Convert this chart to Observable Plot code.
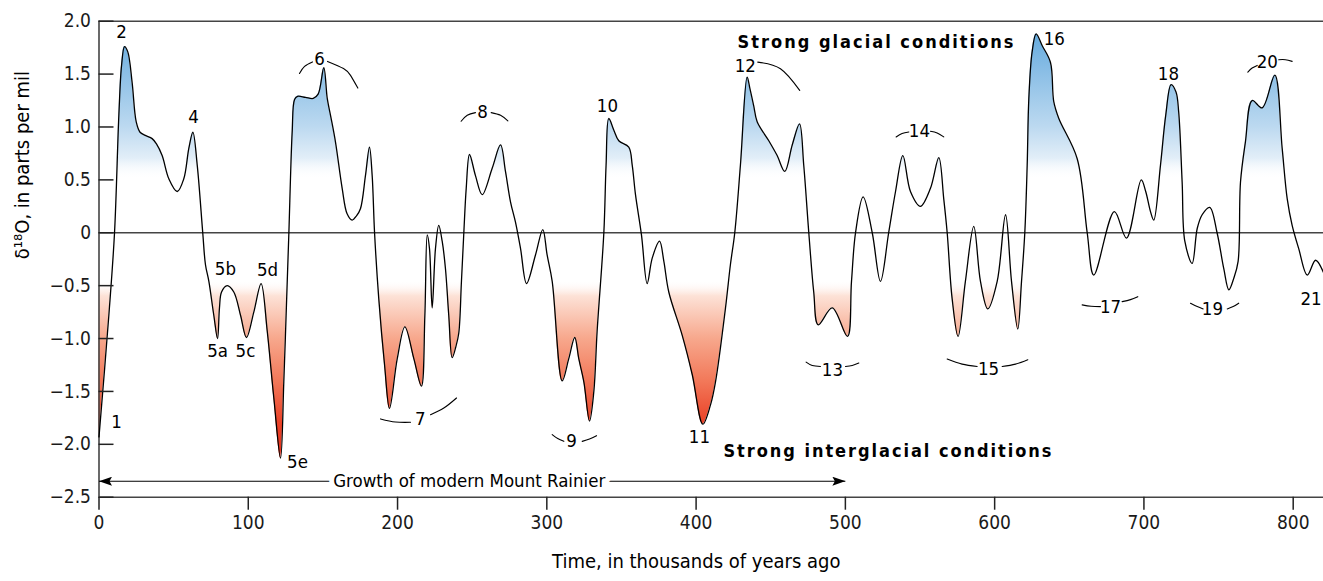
<!DOCTYPE html>
<html><head><meta charset="utf-8">
<script src="https://cdn.jsdelivr.net/npm/d3@7"></script>
<script src="https://cdn.jsdelivr.net/npm/@observablehq/plot@0.6"></script>
<style>html,body{margin:0;padding:0;background:#fff;overflow:hidden}</style>
</head><body><div id="chart"></div>
<script>
// ---- data (thousands of years ago, delta 18O per mil) ----
const time = [0,6.6,10.4,13.3,15.1,17.1,19.3,22.2,24.9,27.5,31,35.6,38.5,42.3,46.8,52.4,56.8,60.2,62.9,65.8,69.5,71.3,73.6,76.9,79.4,80.7,82.1,85.9,90.3,94.8,98.8,103.7,108.6,112.7,117.1,121.6,123.8,126.1,127.2,129.4,131,133,138.3,143.5,146.8,150.6,152.9,155.1,158.4,162.9,166.2,169.6,172.5,175.2,178.5,181.2,183,184.6,187.4,191.3,194.6,199.8,204.9,210.9,216,218.3,219.9,221.4,223.2,225.4,227.6,229.9,232.1,234.3,236.6,239,241,242.8,244.4,246,248.2,252.2,256.7,263.4,269,272.3,275.7,279,282.4,286.4,292.4,297.3,300.2,303.6,310.3,314.7,318.7,321.4,324.8,328.6,331.5,333.7,338.2,339.7,341.5,344.9,348.2,354.9,357.2,359.4,363.4,367.2,370.6,375.5,378.4,381.7,390.7,397.4,404.5,409.6,413,419.7,423,425.9,429.7,434.2,436.1,438.6,440.9,448.7,454.3,459.4,464.4,469.3,472.1,475.5,478.8,481.8,491.2,501.4,504.1,506.8,511.9,518,523.5,529,533.6,538.5,543.6,550.3,557,562.6,565.9,568.2,571.5,575.5,580.4,586,590.5,595.4,601.7,607.3,611.3,615.5,618,620.2,621.8,622.9,625.1,627.8,631.8,637.4,639.6,643,655.3,662,666.4,680.2,688.3,698.2,701.2,704.4,706.6,711.1,714.6,718.2,721.5,723.3,725.6,727.4,732.3,735.7,739,744.1,749,753.5,756.9,760.2,763.1,764.7,768,772.5,779.2,787.7,792.6,796,799.3,803.7,809.4,815,820.4];
const d18O = [-1.93,-0.78,0,1.11,1.58,1.76,1.71,1.42,1.05,0.95,0.92,0.89,0.84,0.73,0.51,0.39,0.51,0.80,0.95,0.64,0,-0.30,-0.46,-0.78,-1.00,-0.71,-0.56,-0.50,-0.56,-0.78,-0.99,-0.75,-0.48,-0.93,-1.56,-2.13,-1.41,-0.46,0,0.95,1.26,1.29,1.28,1.27,1.31,1.56,1.27,1.11,0.86,0.42,0.18,0.12,0.16,0.23,0.54,0.81,0.54,0,-0.62,-1.25,-1.66,-1.19,-0.89,-1.19,-1.45,-0.78,-0.02,-0.15,-0.71,-0.15,0.07,-0.08,-0.34,-0.78,-1.18,-1.08,-0.95,-0.46,0,0.42,0.74,0.54,0.36,0.61,0.83,0.58,0.29,0.10,-0.15,-0.48,-0.21,0.03,-0.21,-0.46,-1.40,-1.19,-0.99,-1.19,-1.41,-1.78,-1.50,-0.93,0,0.64,1.08,0.97,0.87,0.81,0.64,0.36,-0.02,-0.48,-0.24,-0.08,-0.27,-0.56,-0.97,-1.34,-1.81,-1.63,-1.41,-0.71,-0.30,0,0.64,1.47,1.36,1.20,1.05,0.87,0.73,0.58,0.83,1.03,0.64,0,-0.56,-0.87,-0.71,-0.98,-0.46,0,0.34,0,-0.46,0,0.39,0.73,0.39,0.25,0.42,0.71,0.32,0,-0.62,-0.98,-0.46,0.06,-0.46,-0.72,-0.46,0.17,-0.46,-0.91,-0.46,0,0.64,1.27,1.71,1.88,1.77,1.61,1.24,1.08,0.70,0,-0.40,0.20,-0.05,0.50,0.39,0.20,0.12,0.64,1.11,1.40,1.33,1.14,0.48,-0.08,-0.29,0.04,0.17,0.24,0,-0.34,-0.54,-0.43,-0.27,0.48,0.86,1.25,1.18,1.49,0.80,0.32,0.07,-0.15,-0.40,-0.26,-0.38];

const yTicks = [2, 1.5, 1, 0.5, 0, -0.5, -1, -1.5, -2, -2.5];
const xTicks = [0, 100, 200, 300, 400, 500, 600, 700, 800];

// marine isotope stage labels
const stageText = ["1","2","4","5a","5b","5c","5d","5e","6","7","8","9","10","11","12","13","14","15","16","17","18","19","20","21"];
const stageT = [11.7,15.1,63.3,79.4,84.7,98.1,112.9,133,147.7,215.3,256.9,316.5,340.6,402.2,433,491.3,549.6,595.9,640,677.6,716.4,745.9,782.7,812];
const stageV = [-1.79,1.90,1.09,-1.12,-0.34,-1.12,-0.35,-2.17,1.64,-1.76,1.14,-1.97,1.20,-1.93,1.58,-1.30,0.96,-1.29,1.83,-0.70,1.50,-0.72,1.61,-0.63];

// bracket leaders around grouped stage labels
const leaderName = ["6L","6R","7L","7R","8L","8R","9L","9R","12R","13L","13R","14L","14R","15L","15R","17L","17R","19L","19R","20L","20R"];
const leaderT = [[134.3,137.7,143.0],[153.1,163.8,168.5,173.4],[188.6,198.6,208.7],[222.1,231,239.5],[242.6,246.7,252.2],[262.7,269,273.9],[303.6,307.3,311.4],[323.7,328.6,333.3],[441.3,456.5,469.4],[473.7,477.8,483.3],[500.1,504.6,509],[534,538,542.5],[557,561.5,565.9],[568.2,578.2,588.3],[605,614,622.2],[658.6,664.6,670.9],[685.4,691,695.9],[731.2,735.7,739.7],[755.8,759.8,763.5],[769.6,772.5,775.9],[790.3,794.8,799.3]];
const leaderV = [[1.506,1.573,1.615],[1.620,1.553,1.488,1.368],[-1.760,-1.789,-1.792],[-1.720,-1.657,-1.562],[1.054,1.110,1.136],[1.136,1.110,1.057],[-1.908,-1.946,-1.972],[-1.972,-1.949,-1.918],[1.613,1.551,1.346],[-1.223,-1.255,-1.264],[-1.264,-1.255,-1.232],[0.906,0.938,0.953],[0.959,0.943,0.906],[-1.194,-1.242,-1.264],[-1.264,-1.242,-1.201],[-0.682,-0.695,-0.698],[-0.651,-0.632,-0.604],[-0.666,-0.698,-0.720],[-0.720,-0.698,-0.666],[1.519,1.557,1.582],[1.636,1.636,1.620]];

const conditionText = ["Strong glacial conditions", "Strong interglacial conditions"];
const conditionT = [520.2, 528.2];
const conditionV = [1.80, -2.069];
const conditionWidth = [276, 328];

const growthLabel = "Growth of modern Mount Rainier";
const growthSpan = [0, 500];
const growthT = 248;
const growthV = -2.349;

const xLabel = "Time, in thousands of years ago";
const yLabel = "δ¹⁸O, in parts per mil";

// fill gradient stops (value -> color)
const gradValue = [1.95, 1.5, 1.0, 0.7, 0.5, -0.45, -0.6, -1.0, -1.4, -1.8, -2.15];
const gradColor = ["#5ea7dc","#8cbfe6","#bcd9f0","#e2eef8","#ffffff","#ffffff","#fde2d7","#f7a88d","#f2795a","#ea4228","#e62e1a"];
const gradOpacity = [1,1,1,1,0,0,1,1,1,1,1];

// ---- font detection ----
function hasFont(name){
  const c = document.createElement("canvas").getContext("2d");
  const s = "abcdefghijklmnopqrstuvwxyz ABCDEFGHIJKLM 0123456789";
  let r = false;
  for (const fb of ["monospace","serif"]) {
    c.font = `40px ${fb}`; const a = c.measureText(s).width;
    c.font = `40px "${name}", ${fb}`; const b = c.measureText(s).width;
    if (Math.abs(a-b) > 0.5) r = true;
  }
  return r;
}
const FONT = ["Liberation Sans Narrow","DejaVu Sans Condensed","Roboto Condensed","Arial Narrow","Roboto"].find(hasFont) || "sans-serif";
const FF = `"${FONT}", sans-serif`;

const series = time.map((t,i) => ({t, v: d18O[i]}));
const stages = stageText.map((s,i) => ({s, t: stageT[i], v: stageV[i]}));
const leaders = leaderName.flatMap((n,i) => leaderT[i].map((t,j) => ({n, t, v: leaderV[i][j]})));
const conditions = conditionText.map((s,i) => ({s, t: conditionT[i], v: conditionV[i]}));

const W = 1323, H = 581, mL = 98.5, mR = 0;
const tickLen = 15;
const ink = "#1a1a1a";
const fmt = d => d === 0 ? "0" : d.toFixed(1).replace("-", "\u2212");

const plot = Plot.plot({
  width: W, height: H,
  marginLeft: mL, marginRight: mR, marginTop: 20.7, marginBottom: 84.3,
  x: {domain: [0, 820.3], label: null},
  y: {domain: [-2.5, 2.0], label: null},
  style: {fontFamily: FF, fontSize: "19px", color: ink, background: "#fff"},
  marks: [
    Plot.areaY(series, {x: "t", y1: 0, y2: "v", curve: "catmull-rom", fill: "url(#d18grad)"}),
    Plot.ruleY([0], {stroke: "#444", strokeWidth: 1.3}),
    Plot.ruleY([2, -2.5], {stroke: "#444", strokeWidth: 1.6}),
    Plot.ruleX([0], {stroke: "#444", strokeWidth: 1.6}),
    Plot.line(series, {x: "t", y: "v", curve: "catmull-rom", stroke: "#000", strokeWidth: 1.3}),
    // inward y ticks: rules that span only the first tickLen pixels of the frame
    Plot.ruleY(yTicks, {stroke: "#222", strokeWidth: 1.5, insetRight: W - mL - mR - tickLen}),
    Plot.axisY(yTicks, {tickSize: 0, tickPadding: 8, tickFormat: fmt, fontSize: 19, label: null}),
    Plot.axisX(xTicks, {tickSize: 13, tickPadding: 5, stroke: "#222", strokeWidth: 1.5, fontSize: 19, label: null}),
    Plot.line(leaders, {x: "t", y: "v", z: "n", curve: "natural", stroke: "#000", strokeWidth: 1.1}),
    Plot.text(stages, {x: "t", y: "v", text: "s", fontSize: 18.5, fill: "#000"}),
    Plot.text(conditions, {x: "t", y: "v", text: "s", fontSize: 18, fontWeight: "bold", fill: "#000", ariaDescription: "conditions"}),
    Plot.link([growthSpan], {x1: d => d[0], x2: d => d[1], y1: growthV, y2: growthV, stroke: "#000", strokeWidth: 1.2, ariaDescription: "growth-arrow"}),
    Plot.text([growthLabel], {x: growthT, y: growthV, text: d => d, fontSize: 18.5, fill: "#000", stroke: "#fff", strokeWidth: 10}),
    Plot.text([yLabel], {frameAnchor: "left", dx: -76, rotate: -90, text: d => d, fontSize: 20, fill: "#000"}),
    Plot.text([xLabel], {frameAnchor: "bottom", dx: -15, dy: 71, text: d => d, fontSize: 20, fill: "#000"})
  ]
});

// gradient for glacial / interglacial fills
const root = d3.select(plot);
const ys = plot.scale("y");
const y1 = ys.apply(gradValue[0]), y2 = ys.apply(gradValue[gradValue.length-1]);
const defs = root.insert("defs", ":first-child");
const grad = defs.append("linearGradient").attr("id", "d18grad").attr("gradientUnits", "userSpaceOnUse")
  .attr("x1", 0).attr("x2", 0).attr("y1", y1).attr("y2", y2);
gradValue.forEach((v,i) => grad.append("stop").attr("offset", (ys.apply(v)-y1)/(y2-y1))
  .attr("stop-color", gradColor[i]).attr("stop-opacity", gradOpacity[i]));
// filled arrowheads
defs.append("marker").attr("id", "ahead").attr("viewBox", "0 0 13 9").attr("refX", 13).attr("refY", 4.5)
  .attr("markerWidth", 13).attr("markerHeight", 9).attr("markerUnits", "userSpaceOnUse").attr("orient", "auto-start-reverse")
  .append("path").attr("d", "M0,0L13,4.5L0,9L2.5,4.5Z").attr("fill", "#000").attr("stroke", "none");
root.selectAll('[aria-description="growth-arrow"] path, path[aria-description="growth-arrow"]')
  .attr("marker-start", "url(#ahead)").attr("marker-end", "url(#ahead)");
root.selectAll('[aria-description="conditions"] text').each(function(d, i) {
  d3.select(this).attr("textLength", conditionWidth[i]).attr("lengthAdjust", "spacing");
});

document.getElementById("chart").appendChild(plot);
</script></body></html>
